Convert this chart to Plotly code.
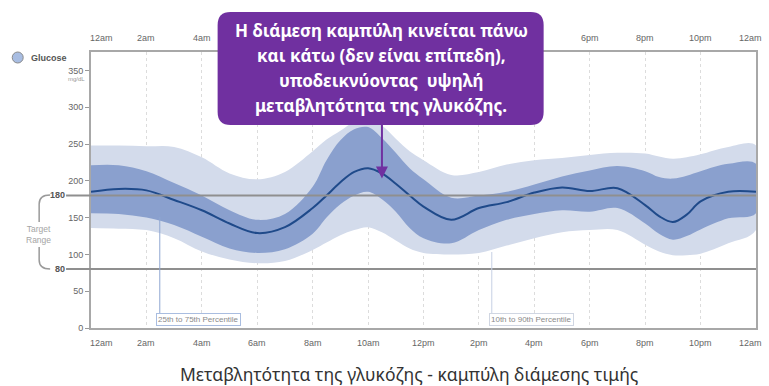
import plotly.graph_objects as go

# ---------------- data ----------------
hours = [0, 1, 2, 3, 4, 5, 6, 7, 8, 8.5, 9, 9.5, 10, 10.5, 11, 11.5, 12, 13, 14, 15, 16,
         17, 18, 19, 20, 20.5, 21, 21.5, 22, 23, 24]
median = [185, 189, 187, 174, 160, 142, 129, 137, 163, 180, 198, 212, 217, 210, 196, 180, 165,
          147, 163, 171, 184, 191, 186, 190, 167, 152, 144, 154, 172, 185, 185]
p75 = [221, 221, 213, 197, 180, 160, 147, 155, 192, 228, 255, 270, 273, 258, 238, 217, 202,
       177, 180, 185, 195, 206, 214, 220, 213, 205, 203, 207, 213, 223, 223]
p25 = [156, 155, 150, 140, 124, 108, 102, 107, 128, 150, 168, 180, 185, 175, 158, 136, 122,
       115, 133, 147, 155, 160, 158, 163, 142, 128, 120, 125, 134, 149, 156]
p90 = [248, 248, 247, 246, 232, 210, 202, 212, 240, 256, 268, 280, 285, 275, 257, 240, 228,
       208, 212, 222, 228, 231, 235, 238, 237, 233, 230, 232, 236, 246, 248]
p10 = [136, 135, 133, 122, 104, 93, 88, 91, 106, 116, 126, 133, 137, 130, 119, 108, 102,
       100, 102, 112, 122, 130, 133, 133, 113, 104, 99, 99, 101, 115, 133]

tick_hours = [0, 2, 4, 6, 8, 10, 12, 14, 16, 18, 20, 22, 24]
tick_labels = ["12am", "2am", "4am", "6am", "8am", "10am", "12pm", "2pm", "4pm", "6pm",
               "8pm", "10pm", "12am"]
top_hide = [6, 8, 10, 12, 14, 16]  # hidden behind the callout box
y_ticks = [0, 50, 100, 150, 200, 250, 300, 350]
target_low, target_high = 80, 180

callout_lines = ["Η διάμεση καμπύλη κινείται πάνω", "και κάτω (δεν είναι επίπεδη),",
                 "υποδεικνύοντας  υψηλή", "μεταβλητότητα της γλυκόζης."]
caption = "Μεταβλητότητα της γλυκόζης - καμπύλη διάμεσης τιμής"

# ---------------- layout helpers ----------------
W, H = 769, 386
L, R, T, B = 91, 758, 52, 328


def px(x):
    return (x - L) / (R - L)


def py(y):
    return (B - y) / (B - T)


def rrect(x0, y0, x1, y1, r):
    rx, ry = r / (R - L), r / (B - T)
    a, b, c, d = px(x0), px(x1), py(y0), py(y1)  # c top, d bottom
    return (f"M{a+rx},{c} L{b-rx},{c} Q{b},{c} {b},{c-ry} L{b},{d+ry} Q{b},{d} {b-rx},{d} "
            f"L{a+rx},{d} Q{a},{d} {a},{d+ry} L{a},{c-ry} Q{a},{c} {a+rx},{c} Z")


OUTER = "#d3dbeb"
INNER = "#8aa0ce"
MED = "#1f4a8a"
PURPLE = "#7030a0"
GRAY = "#666666"
TF = "Liberation Sans"

fig = go.Figure()
fig.add_trace(go.Scatter(x=hours + hours[::-1], y=p90 + p10[::-1], fill="toself",
                         fillcolor=OUTER, line=dict(width=0, shape="spline"),
                         mode="lines", hoverinfo="skip"))
fig.add_trace(go.Scatter(x=hours + hours[::-1], y=p75 + p25[::-1], fill="toself",
                         fillcolor=INNER, line=dict(width=0, shape="spline"),
                         mode="lines", hoverinfo="skip"))
fig.add_trace(go.Scatter(x=hours, y=median, mode="lines",
                         line=dict(color=MED, width=2, shape="spline"), hoverinfo="skip"))

shapes = []
# target lines
for v in (target_high, target_low):
    shapes.append(dict(type="line", xref="paper", yref="y", x0=px(66), x1=1, y0=v, y1=v,
                       line=dict(color="#8f8f8f", width=2), layer="above"))
# target bracket
bx, bx2 = 39, 50
shapes.append(dict(type="path", xref="paper", yref="paper",
                   path=f"M{px(bx2)},{py(195)} Q{px(bx)},{py(195)} {px(bx)},{py(204)} L{px(bx)},{py(222)}",
                   line=dict(color="#9a9a9a", width=1.5)))
shapes.append(dict(type="path", xref="paper", yref="paper",
                   path=f"M{px(bx)},{py(247)} L{px(bx)},{py(260)} Q{px(bx)},{py(269)} {px(bx2)},{py(269)}",
                   line=dict(color="#9a9a9a", width=1.5)))
# leader lines for percentile labels
shapes.append(dict(type="line", xref="paper", yref="paper", x0=px(160), x1=px(160),
                   y0=py(217), y1=py(313), line=dict(color="#8fa6d2", width=1), layer="above"))
shapes.append(dict(type="line", xref="paper", yref="paper", x0=px(493), x1=px(493),
                   y0=py(252), y1=py(313), line=dict(color="#c6d0e4", width=1), layer="above"))
# callout box
shapes.append(dict(type="path", xref="paper", yref="paper", path=rrect(218, 12, 545, 125, 13),
                   fillcolor=PURPLE, line=dict(width=0), layer="above"))
# legend icon
shapes.append(dict(type="circle", xref="paper", yref="paper", x0=px(12), x1=px(23),
                   y0=py(52), y1=py(63), fillcolor="#a8bde2", line=dict(color="#8a8a8a", width=1)))


def note(x, y, text, **kw):
    d = dict(x=x, y=y, xref="paper", yref="paper", text=text, showarrow=False,
             xanchor="center", yanchor="middle")
    d.update(kw)
    return d


ann = []
for h, t in zip(tick_hours, tick_labels):
    shift = 10 if h == 0 else (-6 if h == 24 else 0)
    ann.append(dict(x=h, y=py(343), xref="x", yref="paper", text=t, showarrow=False,
                    xanchor="center", yanchor="middle", xshift=shift,
                    font=dict(size=9, color=GRAY, family=TF)))
    if h not in top_hide:
        ann.append(dict(x=h, y=py(38), xref="x", yref="paper", text=t, showarrow=False,
                        xanchor="center", yanchor="middle", xshift=shift,
                        font=dict(size=9, color=GRAY, family=TF)))

ann += [
    note(px(57), py(195), f"<b>{target_high}</b>", font=dict(size=9, color="#555", family=TF)),
    note(px(60), py(269), f"<b>{target_low}</b>", font=dict(size=9, color="#555", family=TF)),
    note(px(38), py(234), "Target<br>Range", font=dict(size=8.5, color="#a5a5a5", family=TF)),
    note(px(76), py(79), "mg/dL", font=dict(size=6, color="#999", family=TF)),
    note(px(29), py(58), "<b>Glucose</b>", xanchor="left",
         font=dict(size=9, color="#555", family=TF)),
    note(px(199), py(319), "25th to 75th Percentile", bgcolor="white", bordercolor="#a9bde0",
         borderwidth=1, borderpad=1, font=dict(size=8, color="#8a8a8a", family=TF)),
    note(px(533), py(319), "10th to 90th Percentile", bgcolor="white", bordercolor="#d0d6e2",
         borderwidth=1, borderpad=1, font=dict(size=8, color="#8a8a8a", family=TF)),
    # arrow
    dict(x=10.5, y=203, xref="x", yref="y", text="", showarrow=True, ax=0, ay=-56,
         arrowcolor=PURPLE, arrowwidth=2, arrowhead=2, arrowsize=1.2),
    note(px(410), py(374), caption, font=dict(size=17.5, color="#333333", family="Noto Sans")),
]
for i, line in enumerate(callout_lines):
    ann.append(note(px(382), py(30 + 25.3 * i), f"<b>{line}</b>",
                    font=dict(size=17, color="white", family="Noto Sans")))

fig.update_layout(
    width=W, height=H, margin=dict(l=L, r=W - R, t=T, b=H - B),
    paper_bgcolor="white", plot_bgcolor="white", showlegend=False,
    shapes=shapes, annotations=ann,
    xaxis=dict(range=[0, 24], tickvals=tick_hours, showticklabels=False, ticks="",
               showgrid=True, gridcolor="#dcdcdc", griddash="dot", gridwidth=1,
               showline=True, linecolor="#a8a8a8", linewidth=2, mirror=True, zeroline=False),
    yaxis=dict(range=[0, 375], tickvals=y_ticks, showgrid=False, zeroline=False,
               ticks="outside", ticklen=4, tickcolor="#999", tickwidth=1,
               tickfont=dict(size=9, color=GRAY, family=TF),
               showline=True, linecolor="#a8a8a8", linewidth=2, mirror=True),
)

fig.write_html("out.html")
